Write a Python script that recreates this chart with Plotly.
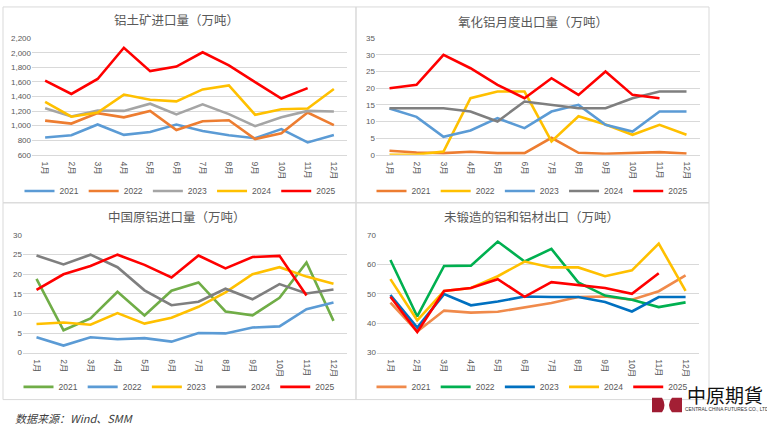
import plotly.graph_objects as go

W, H = 767, 433
months = [f"{i}月" for i in range(1, 13)]

# Panel 1: 铝土矿进口量（万吨）
bauxite_2021 = [837, 868, 1016, 873, 913, 1016, 926, 868, 828, 953, 770, 873]
bauxite_2022 = [1069, 1029, 1172, 1114, 1203, 940, 1060, 1074, 815, 895, 1181, 1007]
bauxite_2023 = [1239, 1127, 1208, 1203, 1302, 1154, 1293, 1159, 993, 1114, 1203, 1194]
bauxite_2024 = [1328, 1123, 1181, 1427, 1355, 1333, 1498, 1552, 1150, 1226, 1235, 1503]
bauxite_2025 = [1619, 1436, 1641, 2070, 1749, 1811, 2008, 1829, 1597, 1373, 1516]

# Panel 2: 氧化铝月度出口量（万吨）
alumina_2021 = [1.2, 0.7, 0.5, 0.9, 0.5, 0.5, 5.1, 0.6, 0.3, 0.6, 0.8, 0.4]
alumina_2022 = [0.0, 0.1, 1.0, 17, 19, 19, 4, 11.6, 9.1, 6, 9, 6]
alumina_2023 = [13.9, 11.4, 5.4, 7.3, 11, 8, 13, 15, 9, 7, 13, 13]
alumina_2024 = [14, 14, 14, 13, 10, 16, 15, 14, 14, 17, 19, 19]
alumina_2025 = [20, 21, 30, 26, 21, 17, 23, 18, 25, 18, 17]

# Panel 3: 中国原铝进口量（万吨）
primary_2021 = [18.8, 5.7, 8.7, 15.5, 9.5, 15.8, 17.9, 10.5, 9.5, 14.0, 23.0, 8.1]
primary_2022 = [3.9, 1.8, 3.9, 3.4, 3.7, 2.8, 5.0, 4.9, 6.4, 6.7, 11.1, 12.8]
primary_2023 = [7.3, 7.7, 7.1, 10.1, 7.4, 8.9, 11.7, 15.4, 20.0, 21.8, 19.4, 17.6]
primary_2024 = [24.8, 22.5, 25.0, 21.8, 15.9, 12.1, 13.0, 16.3, 13.6, 17.5, 15.1, 16.1]
primary_2025 = [16.0, 20.0, 22.1, 25.0, 22.4, 19.2, 24.8, 21.5, 24.4, 24.7, 14.6]

# Panel 4: 未锻造的铝和铝材出口（万吨）
unwrought_2021 = [47.0, 37.2, 44.3, 43.6, 43.9, 45.3, 46.9, 48.9, 49.1, 48.0, 50.9, 56.3]
unwrought_2022 = [61.5, 42.3, 59.5, 59.6, 67.8, 61.0, 65.3, 53.9, 49.4, 48.0, 45.5, 47.1]
unwrought_2023 = [49.6, 38.5, 49.9, 46.1, 47.4, 49.1, 48.9, 48.9, 47.2, 44.0, 48.9, 48.9]
unwrought_2024 = [55, 41, 51, 52, 56, 61, 59, 59, 56, 58, 67.1, 51]
unwrought_2025 = [49, 37, 51, 52, 55, 49, 54, 53, 52, 50, 57]

years = ["2021", "2022", "2023", "2024", "2025"]

panels = [
    dict(title="铝土矿进口量（万吨）",
         series=[bauxite_2021, bauxite_2022, bauxite_2023, bauxite_2024, bauxite_2025],
         colors=["#5B9BD5", "#ED7D31", "#A5A5A5", "#FFC000", "#FF0000"],
         yrange=[600, 2200], dtick=200, fmt=",",
         box=(3, 3, 356, 203), xdom=(32, 347), ydom=(35, 154), tpos=(176, 16), lpos=(180, 191)),
    dict(title="氧化铝月度出口量（万吨）",
         series=[alumina_2021, alumina_2022, alumina_2023, alumina_2024, alumina_2025],
         colors=["#ED7D31", "#FFC000", "#5B9BD5", "#7F7F7F", "#FF0000"],
         yrange=[0, 35], dtick=5, fmt="",
         box=(356, 3, 709, 203), xdom=(376, 700), ydom=(35, 154), tpos=(533, 18), lpos=(532, 191)),
    dict(title="中国原铝进口量（万吨）",
         series=[primary_2021, primary_2022, primary_2023, primary_2024, primary_2025],
         colors=["#70AD47", "#5B9BD5", "#FFC000", "#7F7F7F", "#FF0000"],
         yrange=[0, 30], dtick=5, fmt="",
         box=(3, 203, 356, 404), xdom=(23, 347), ydom=(236, 356), tpos=(177, 217), lpos=(179, 391)),
    dict(title="未锻造的铝和铝材出口（万吨）",
         series=[unwrought_2021, unwrought_2022, unwrought_2023, unwrought_2024, unwrought_2025],
         colors=["#F08A4B", "#00B050", "#0070C0", "#FFC000", "#FF0000"],
         yrange=[30, 70], dtick=10, fmt="",
         box=(356, 203, 709, 404), xdom=(377, 699), ydom=(236, 356), tpos=(531, 217), lpos=(532, 391)),
]

def px(x):
    return x / W

def py(y):
    return 1 - y / H

FONT = "Liberation Sans, Noto Sans CJK SC, sans-serif"
CJK = "Noto Sans CJK SC, sans-serif"
GRID = "#D9D9D9"
TXT = "#595959"

fig = go.Figure()
layout = dict(width=W, height=H, margin=dict(l=0, r=0, t=0, b=0),
              paper_bgcolor="white", plot_bgcolor="rgba(0,0,0,0)",
              showlegend=True, shapes=[], annotations=[])

for i, p in enumerate(panels, start=1):
    xa = "x" if i == 1 else f"x{i}"
    ya = "y" if i == 1 else f"y{i}"
    lg = "legend" if i == 1 else f"legend{i}"
    for yr, vals, col in zip(years, p["series"], p["colors"]):
        fig.add_trace(go.Scatter(x=months[:len(vals)], y=vals, name=yr, mode="lines",
                                 line=dict(color=col, width=2.6), xaxis=xa, yaxis=ya,
                                 legend=lg, hoverinfo="skip"))
    key = "" if i == 1 else str(i)
    layout["xaxis" + key] = dict(domain=[px(p["xdom"][0]), px(p["xdom"][1])], anchor=ya,
                                 type="category", categoryorder="array", categoryarray=months,
                                 range=[-0.5, 11.5], showgrid=False, showline=True,
                                 linecolor=GRID, linewidth=1, tickangle=90,
                                 ticks="outside", ticklen=4, tickcolor="rgba(0,0,0,0)",
                                 tickfont=dict(family=FONT, size=8.5, color=TXT), fixedrange=True)
    layout["yaxis" + key] = dict(domain=[py(p["ydom"][1]), py(p["ydom"][0])], anchor=xa,
                                 range=p["yrange"], dtick=p["dtick"], tick0=p["yrange"][0],
                                 tickformat=p["fmt"], showgrid=True, gridcolor=GRID, gridwidth=1,
                                 zeroline=False, showline=False, ticks="",
                                 tickfont=dict(family=FONT, size=8, color=TXT), fixedrange=True)
    layout[lg] = dict(orientation="h", x=px(p["lpos"][0]), xanchor="center",
                      y=py(p["lpos"][1]), yanchor="middle", bgcolor="rgba(0,0,0,0)",
                      font=dict(family=FONT, size=8.5, color=TXT), itemwidth=30,
                      tracegroupgap=0)
    x0, y0, x1, y1 = p["box"]
    layout["shapes"].append(dict(type="rect", xref="paper", yref="paper",
                                 x0=px(x0), x1=px(x1), y0=py(y1), y1=py(y0),
                                 line=dict(color=GRID, width=1), fillcolor="rgba(0,0,0,0)",
                                 layer="below"))
    layout["annotations"].append(dict(text=p["title"], xref="paper", yref="paper",
                                      x=px(p["tpos"][0]), y=py(p["tpos"][1]),
                                      xanchor="center", yanchor="middle", showarrow=False,
                                      font=dict(family=CJK, size=12.5, color=TXT)))

# footer source note
layout["annotations"].append(dict(text="数据来源：Wind、SMM", xref="paper", yref="paper",
                                  x=px(13), y=py(423), xanchor="left", yanchor="middle",
                                  showarrow=False,
                                  font=dict(family=CJK, size=11, color="#404040", style="italic")))
# company logo (decorative)
layout["shapes"].append(dict(type="path", xref="paper", yref="paper",
                             path=f"M {px(652)},{py(402)} L {px(662)},{py(402)} Q {px(667)},{py(409.5)} {px(662)},{py(417)} L {px(652)},{py(417)} Z",
                             line=dict(width=0), fillcolor="#9E1B32", layer="above"))
layout["shapes"].append(dict(type="path", xref="paper", yref="paper",
                             path=f"M {px(672)},{py(402)} L {px(682)},{py(402)} L {px(682)},{py(417)} L {px(672)},{py(417)} Q {px(666)},{py(409.5)} {px(672)},{py(402)} Z",
                             line=dict(width=0), fillcolor="#A31F34", layer="above"))
layout["annotations"].append(dict(text="中原期貨", xref="paper", yref="paper",
                                  x=px(685), y=py(399), xanchor="left", yanchor="middle",
                                  showarrow=False,
                                  font=dict(family=CJK, size=19, color="#111111")))
layout["annotations"].append(dict(text="CENTRAL CHINA FUTURES CO., LTD", xref="paper", yref="paper",
                                  x=px(683), y=py(414), xanchor="left", yanchor="middle",
                                  showarrow=False,
                                  font=dict(family=FONT, size=4.8, color="#333333")))

fig.update_layout(**layout)
fig.write_html("out.html", config={"displayModeBar": False},
               post_script="document.body.style.margin='0';document.body.style.overflow='hidden';")
